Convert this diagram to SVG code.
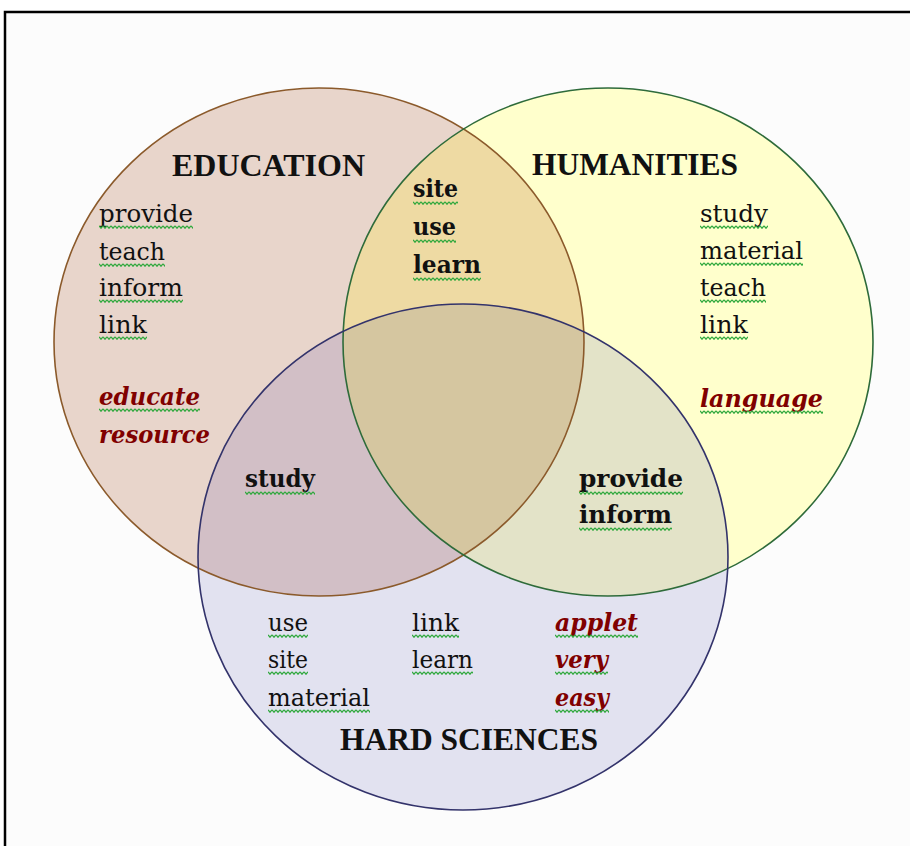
<svg xmlns="http://www.w3.org/2000/svg" width="910" height="846" viewBox="0 0 910 846">
<style>
  .w { font-family: "DejaVu Serif", "Liberation Serif", serif; font-size: 24px; fill: #111; }
  .b { font-weight: bold; }
  .r { font-weight: bold; font-style: italic; fill: #800000; }
  .t { font-family: "Liberation Serif", "Times New Roman", serif; font-size: 31px; font-weight: bold; fill: #111; }
  .sq { fill: url(#squiggle); }
</style>
<defs>
  <pattern id="squiggle" patternUnits="userSpaceOnUse" width="4" height="4">
    <path d="M0,0.8 L2,3.2 L4,0.8" fill="none" stroke="#2fa83c" stroke-width="1.3"/>
  </pattern>
  <clipPath id="clipEdu"><ellipse cx="319" cy="342" rx="265" ry="254"/></clipPath>
  <clipPath id="clipHum"><ellipse cx="608" cy="342" rx="265" ry="254"/></clipPath>
</defs>
<rect x="0" y="0" width="910" height="846" fill="#ffffff"/>
<rect x="5" y="12" width="930" height="860" fill="#fcfcfc" stroke="#000" stroke-width="2.5"/>

<g id="education-area">
  <ellipse cx="319" cy="342" rx="265" ry="254" fill="#e8d5cb"/>
</g>
<g id="humanities-area">
  <ellipse cx="608" cy="342" rx="265" ry="254" fill="#ffffcc"/>
</g>
<g id="hard-sciences-area">
  <ellipse cx="463" cy="557" rx="265" ry="253" fill="#e2e2f0"/>
</g>
<g id="overlaps">
  <ellipse cx="608" cy="342" rx="265" ry="254" fill="#eedaa3" clip-path="url(#clipEdu)"/>
  <ellipse cx="463" cy="557" rx="265" ry="253" fill="#d2bfc6" clip-path="url(#clipEdu)"/>
  <ellipse cx="463" cy="557" rx="265" ry="253" fill="#e3e3c8" clip-path="url(#clipHum)"/>
  <g clip-path="url(#clipHum)">
    <ellipse cx="463" cy="557" rx="265" ry="253" fill="#d5c6a0" clip-path="url(#clipEdu)"/>
  </g>
</g>
<g id="outlines" fill="none" stroke-width="1.6">
  <ellipse cx="319" cy="342" rx="265" ry="254" stroke="#8b5a2b"/>
  <ellipse cx="608" cy="342" rx="265" ry="254" stroke="#2e6b3a"/>
  <ellipse cx="463" cy="557" rx="265" ry="253" stroke="#33336b"/>
</g>

<g id="education">
  <text class="t" x="172" y="176" textLength="193" lengthAdjust="spacingAndGlyphs">EDUCATION</text>
  <text class="w" x="99" y="222" textLength="94" lengthAdjust="spacingAndGlyphs">provide</text>
  <rect class="sq" transform="translate(99,225)" width="94" height="4"/>
  <text class="w" x="99" y="260" textLength="66" lengthAdjust="spacingAndGlyphs">teach</text>
  <rect class="sq" transform="translate(99,263)" width="66" height="4"/>
  <text class="w" x="99" y="296" textLength="84" lengthAdjust="spacingAndGlyphs">inform</text>
  <rect class="sq" transform="translate(99,299)" width="84" height="4"/>
  <text class="w" x="99" y="333" textLength="48" lengthAdjust="spacingAndGlyphs">link</text>
  <rect class="sq" transform="translate(99,336)" width="48" height="4"/>
  <text class="w r" x="99" y="405" textLength="101" lengthAdjust="spacingAndGlyphs">educate</text>
  <rect class="sq" transform="translate(99,408)" width="101" height="4"/>
  <text class="w r" x="99" y="443" textLength="111" lengthAdjust="spacingAndGlyphs">resource</text>
</g>

<g id="humanities">
  <text class="t" x="532" y="175" textLength="206" lengthAdjust="spacingAndGlyphs">HUMANITIES</text>
  <text class="w" x="700" y="222" textLength="68" lengthAdjust="spacingAndGlyphs">study</text>
  <rect class="sq" transform="translate(700,225)" width="68" height="4"/>
  <text class="w" x="700" y="259" textLength="103" lengthAdjust="spacingAndGlyphs">material</text>
  <rect class="sq" transform="translate(700,262)" width="103" height="4"/>
  <text class="w" x="700" y="296" textLength="66" lengthAdjust="spacingAndGlyphs">teach</text>
  <rect class="sq" transform="translate(700,299)" width="66" height="4"/>
  <text class="w" x="700" y="333" textLength="48" lengthAdjust="spacingAndGlyphs">link</text>
  <rect class="sq" transform="translate(700,336)" width="48" height="4"/>
  <text class="w r" x="700" y="407" textLength="123" lengthAdjust="spacingAndGlyphs">language</text>
  <rect class="sq" transform="translate(700,410)" width="123" height="4"/>
</g>

<g id="education-humanities">
  <text class="w b" x="413" y="197" textLength="45" lengthAdjust="spacingAndGlyphs">site</text>
  <rect class="sq" transform="translate(413,201)" width="45" height="4"/>
  <text class="w b" x="413" y="235" textLength="43" lengthAdjust="spacingAndGlyphs">use</text>
  <rect class="sq" transform="translate(413,239)" width="43" height="4"/>
  <text class="w b" x="413" y="273" textLength="68" lengthAdjust="spacingAndGlyphs">learn</text>
  <rect class="sq" transform="translate(413,277)" width="68" height="4"/>
</g>

<g id="education-hard-sciences">
  <text class="w b" x="245" y="487" textLength="70" lengthAdjust="spacingAndGlyphs">study</text>
  <rect class="sq" transform="translate(245,491)" width="70" height="4"/>
</g>

<g id="humanities-hard-sciences">
  <text class="w b" x="579" y="487" textLength="104" lengthAdjust="spacingAndGlyphs">provide</text>
  <rect class="sq" transform="translate(579,491)" width="104" height="4"/>
  <text class="w b" x="579" y="523" textLength="93" lengthAdjust="spacingAndGlyphs">inform</text>
  <rect class="sq" transform="translate(579,527)" width="93" height="4"/>
</g>

<g id="hard-sciences">
  <text class="w" x="268" y="631" textLength="40" lengthAdjust="spacingAndGlyphs">use</text>
  <rect class="sq" transform="translate(268,634)" width="40" height="4"/>
  <text class="w" x="268" y="668" textLength="40" lengthAdjust="spacingAndGlyphs">site</text>
  <rect class="sq" transform="translate(268,671)" width="40" height="4"/>
  <text class="w" x="268" y="706" textLength="102" lengthAdjust="spacingAndGlyphs">material</text>
  <rect class="sq" transform="translate(268,709)" width="102" height="4"/>
  <text class="w" x="412" y="631" textLength="47" lengthAdjust="spacingAndGlyphs">link</text>
  <rect class="sq" transform="translate(412,634)" width="47" height="4"/>
  <text class="w" x="412" y="668" textLength="61" lengthAdjust="spacingAndGlyphs">learn</text>
  <rect class="sq" transform="translate(412,671)" width="61" height="4"/>
  <text class="w r" x="555" y="631" textLength="83" lengthAdjust="spacingAndGlyphs">applet</text>
  <rect class="sq" transform="translate(555,634)" width="83" height="4"/>
  <text class="w r" x="555" y="668" textLength="53" lengthAdjust="spacingAndGlyphs">very</text>
  <rect class="sq" transform="translate(555,671)" width="53" height="4"/>
  <text class="w r" x="555" y="706" textLength="54" lengthAdjust="spacingAndGlyphs">easy</text>
  <rect class="sq" transform="translate(555,709)" width="54" height="4"/>
  <text class="t" x="340" y="750" textLength="258" lengthAdjust="spacingAndGlyphs">HARD SCIENCES</text>
</g>
</svg>
